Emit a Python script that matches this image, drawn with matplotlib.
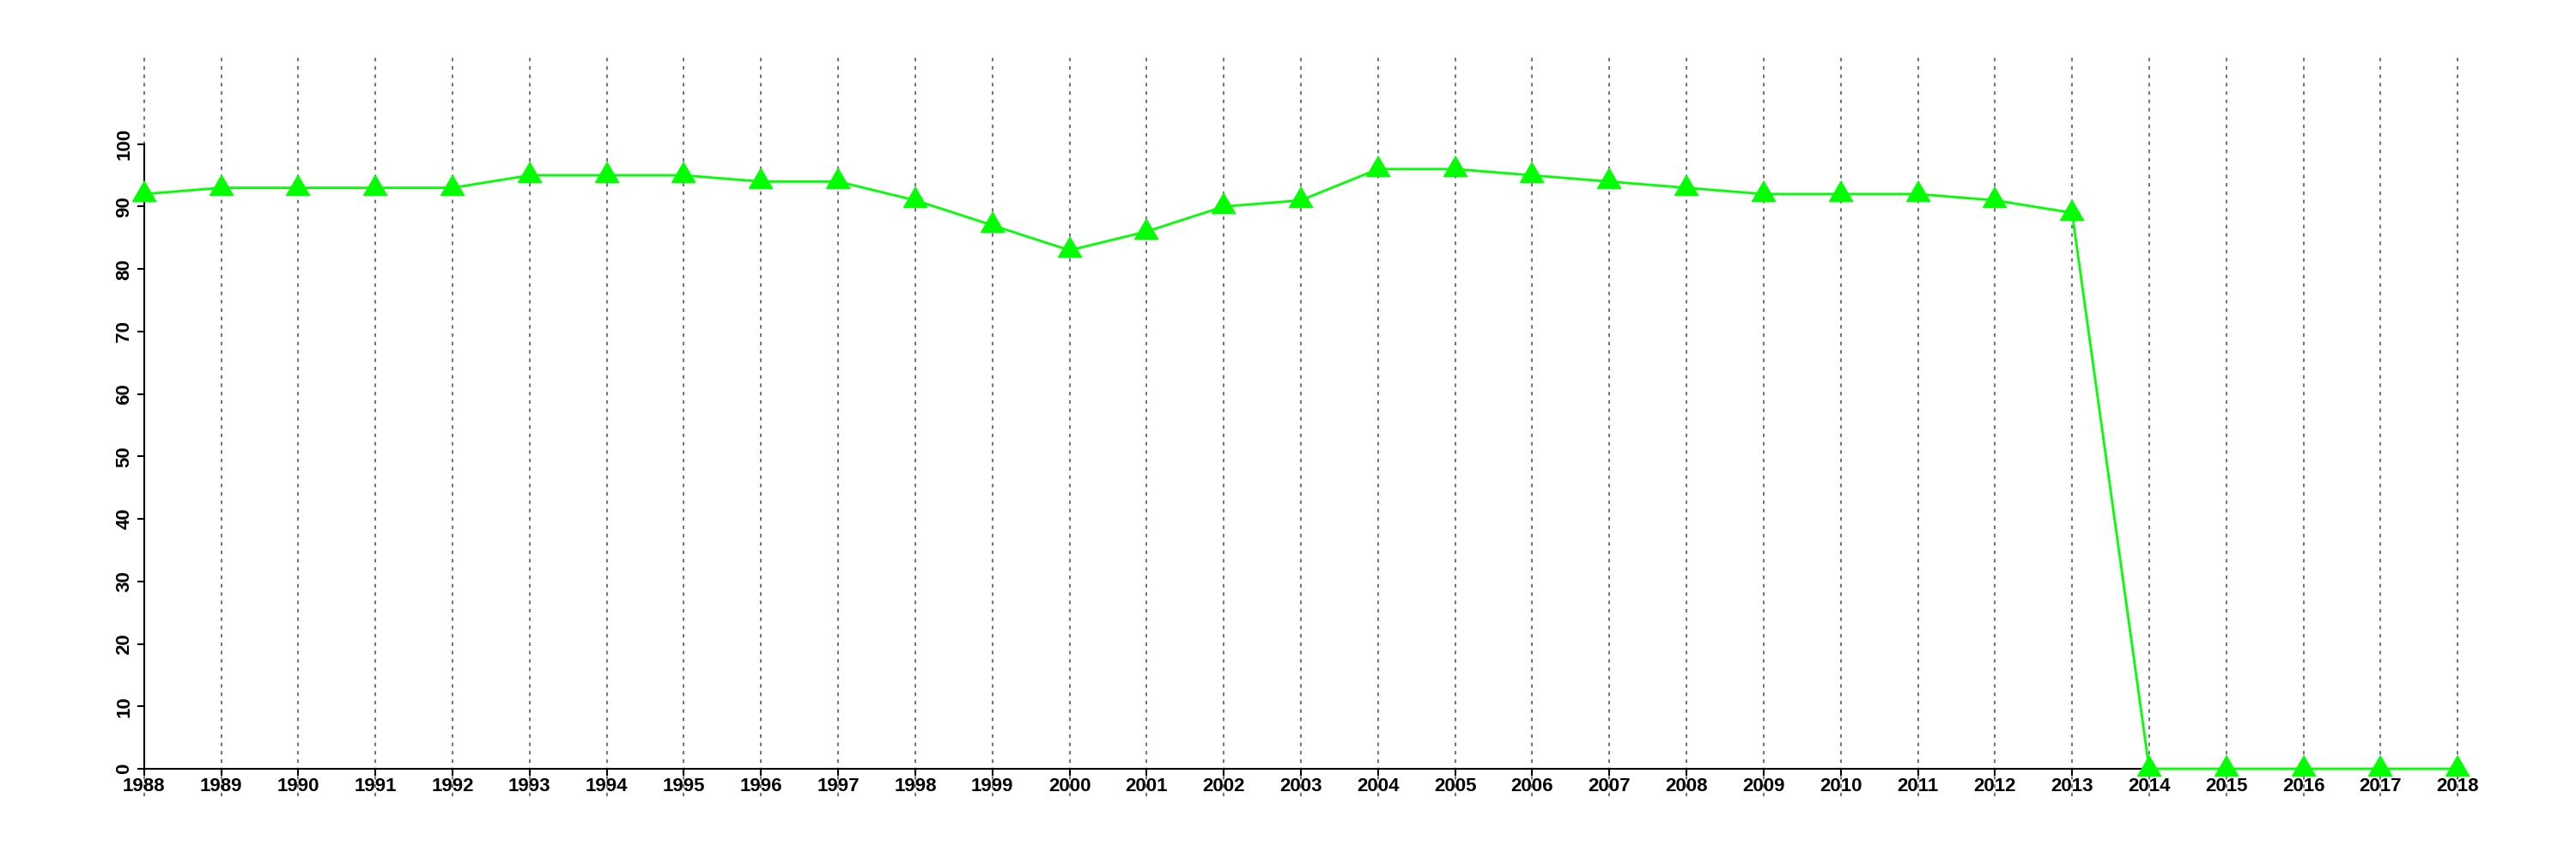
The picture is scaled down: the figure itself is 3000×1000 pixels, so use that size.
import matplotlib
matplotlib.use("Agg")
import matplotlib.pyplot as plt

years = list(range(1988, 2019))
values = [92, 93, 93, 93, 93, 95, 95, 95, 94, 94, 91, 87, 83, 86, 90, 91,
          96, 96, 95, 94, 93, 92, 92, 92, 91, 89, 0, 0, 0, 0, 0]
yticks = [0, 10, 20, 30, 40, 50, 60, 70, 80, 90, 100]

plt.rcParams['font.family'] = ['Liberation Sans', 'DejaVu Sans']
plt.rcParams['lines.scale_dashes'] = False

fig = plt.figure(figsize=(30, 10), dpi=100)
ax = fig.add_axes([0.02, 0.073, 0.97, 0.864])

for y in years:
    ax.axvline(y, color='#777777', lw=1.5, dashes=(3, 4), zorder=1)

tri = [(0, 0.577), (-0.5, -0.289), (0.5, -0.289)]
ax.plot(years, values, color='#00ff00', lw=2, marker=tri, markersize=23,
        markerfacecolor='#00ff00', markeredgecolor='#00ff00', clip_on=False, zorder=5)

ax.set_xlim(1986.8, 2019.2)
ax.set_ylim(-4.4, 114.4)

for s in ['top', 'right']:
    ax.spines[s].set_visible(False)
ax.spines['left'].set_bounds(0, 100)
ax.spines['bottom'].set_bounds(1988, 2018)
for s in ['left', 'bottom']:
    ax.spines[s].set_linewidth(1.5)
    ax.spines[s].set_color('black')
    ax.spines[s].set_zorder(3)
ax.spines['left'].set_position(('data', 1988))
ax.spines['bottom'].set_position(('data', 0))

ax.set_xticks(years)
ax.set_xticklabels([str(y) for y in years], fontsize=16, fontweight='bold')
ax.set_yticks(yticks)
ax.set_yticklabels([str(v) for v in yticks], fontsize=16, fontweight='bold',
                   rotation=90, va='center')
ax.tick_params(axis='both', direction='out', length=6, width=1.5, color='black')
ax.tick_params(axis='x', pad=1)
ax.tick_params(axis='y', pad=3)

fig.savefig('out.png', dpi=100, facecolor='white')
